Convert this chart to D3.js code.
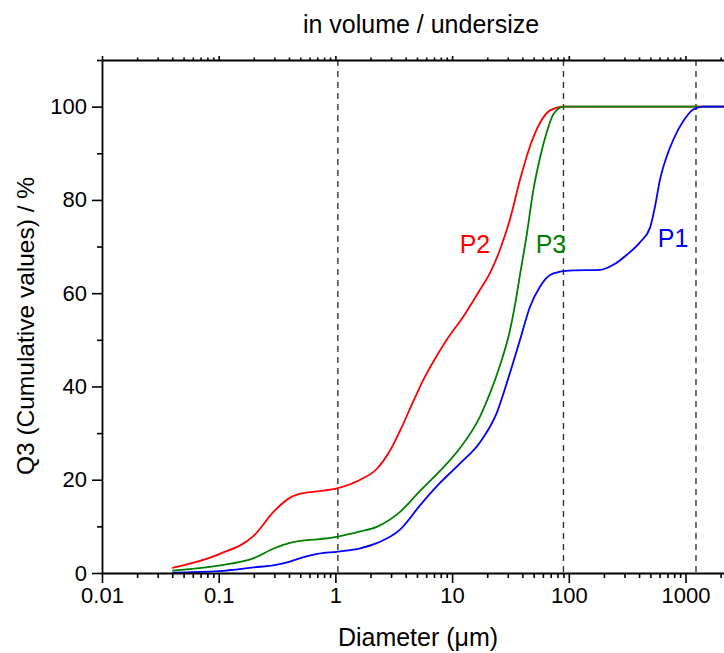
<!DOCTYPE html>
<html>
<head>
<meta charset="utf-8">
<script src="https://cdn.jsdelivr.net/npm/d3@7"></script>
<style>
  html, body { margin: 0; padding: 0; background: #fff; }
  svg { display: block; font-family: Arial, "Liberation Sans", sans-serif; }
</style>
</head>
<body>
<svg id="chart" width="724" height="653"></svg>
<script>
// ---- data ----
const titleText = "in volume / undersize";
const xLabel = "Diameter (\u03bcm)";
const yLabel = "Q3 (Cumulative values) / %";

const xMajorTicks = [0.01, 0.1, 1, 10, 100, 1000];
const xTickLabels = ["0.01", "0.1", "1", "10", "100", "1000"];
const yMajorTicks = [0, 20, 40, 60, 80, 100];
const yMinorTicks = [10, 30, 50, 70, 90, 110];
const refLines = [1.05, 90, 1230];

const p2X = [0.04, 0.1, 0.2, 0.3, 0.4, 0.5, 0.7, 1.05, 1.63, 2.26, 2.9, 3.58, 4.65, 5.67, 6.9, 9, 12.5, 17.3, 21.1, 25.7, 31.3, 38.2, 46.5, 56.6, 69, 90, 3000];
const p2Y = [1.1, 4.0, 8.0, 13.3, 16.0, 17.0, 17.5, 18.2, 20.0, 22.3, 26.0, 30.5, 36.8, 41.4, 45.3, 50.0, 55.0, 60.7, 64.3, 69.3, 75.8, 84.3, 91.5, 96.5, 99.2, 100, 100];

const p3X = [0.04, 0.1, 0.2, 0.3, 0.4, 0.5, 0.7, 1.05, 1.63, 2.26, 3.58, 5.31, 7.87, 11.7, 17.3, 21.1, 25.7, 31.3, 34.6, 38.2, 43.6, 49.6, 56.6, 64.7, 73.6, 90, 3000];
const p3Y = [0.5, 1.6, 3.2, 5.3, 6.4, 6.9, 7.2, 7.8, 8.9, 9.9, 13.1, 17.6, 21.9, 26.8, 33.5, 38.5, 44.5, 52.0, 57.5, 64.0, 72.5, 82.0, 89.0, 94.5, 98.3, 100, 100];

const p1X = [0.04, 0.1, 0.2, 0.3, 0.4, 0.5, 0.7, 1.05, 1.63, 2.26, 3.58, 5.31, 7.87, 11.7, 17.3, 24.1, 31.3, 38.2, 46.5, 56.6, 69, 84, 109, 185, 241, 313, 407, 496, 548, 604, 690, 786, 957, 1166, 1419, 3000];
const p1Y = [0.1, 0.4, 1.2, 1.7, 2.4, 3.2, 4.1, 4.6, 5.3, 6.4, 9.3, 14.5, 19.3, 23.5, 28.0, 34.3, 42.9, 50.0, 57.1, 61.4, 63.9, 64.6, 64.9, 65.0, 66.1, 68.2, 70.9, 74.0, 78.6, 84.3, 89.3, 92.9, 96.9, 99.4, 100, 100];

const seriesNames = ["P2", "P3", "P1"];
const seriesColors = ["#ff0000", "#008000", "#0000ff"];
const labelPos = [[15.7, 68.6], [70.3, 68.6], [782, 69.9]]; // data-space anchor (centre x, baseline y)

// ---- layout ----
const svg = d3.select("#chart");
const padL = 102, padT = 60, padB = 573;
const decade = 116.7;
const x = d3.scaleLog().domain([0.01, 10000]).range([padL, padL + 6 * decade]);
const y = d3.scaleLinear().domain([0, 110]).range([padB, padT]);

const minorX = [];
for (let e = -2; e < 4; e++) for (let m = 2; m <= 9; m++) minorX.push(m * Math.pow(10, e));
const topMajor = xMajorTicks.concat([10000]);

svg.append("defs").append("clipPath").attr("id", "clip")
  .append("rect").attr("x", padL).attr("y", padT).attr("width", 724 - padL).attr("height", padB - padT);

// reference dashed lines
svg.append("g").selectAll("line").data(refLines).join("line")
  .attr("x1", d => x(d)).attr("x2", d => x(d))
  .attr("y1", padT).attr("y2", padB)
  .attr("stroke", "#333").attr("stroke-width", 1.4).attr("stroke-dasharray", "6,5");

// curves
const series = [
  { xs: p2X, ys: p2Y },
  { xs: p3X, ys: p3Y },
  { xs: p1X, ys: p1Y }
];
const line = d3.line().x(d => x(d[0])).y(d => y(d[1])).curve(d3.curveMonotoneX);
const gLines = svg.append("g").attr("clip-path", "url(#clip)");
series.forEach((s, i) => {
  const pts = s.xs.map((v, k) => [v, s.ys[k]]);
  gLines.append("path").datum(pts).attr("d", line)
    .attr("fill", "none").attr("stroke", seriesColors[i]).attr("stroke-width", 1.8);
});

// series labels
svg.append("g").selectAll("text").data(seriesNames).join("text")
  .attr("x", (d, i) => x(labelPos[i][0])).attr("y", (d, i) => y(labelPos[i][1]))
  .attr("text-anchor", "middle").attr("font-size", 25)
  .attr("fill", (d, i) => seriesColors[i]).text(d => d);

// axes
const axStroke = (g) => {
  g.selectAll(".domain").attr("stroke", "#000").attr("stroke-width", 1.8);
  g.selectAll(".tick line").attr("stroke", "#000").attr("stroke-width", 1.6);
  g.selectAll("text").attr("font-size", 22).attr("fill", "#000").attr("font-family", "Arial, 'Liberation Sans', sans-serif");
};

// bottom major
svg.append("g").attr("transform", `translate(0,${padB})`)
  .call(d3.axisBottom(x).tickValues(xMajorTicks).tickSize(10).tickPadding(4)
    .tickFormat((d, i) => xTickLabels[i]).tickSizeOuter(0))
  .call(axStroke);
// bottom minor
svg.append("g").attr("transform", `translate(0,${padB})`)
  .call(d3.axisBottom(x).tickValues(minorX).tickSize(5).tickFormat("").tickSizeOuter(0))
  .call(axStroke).call(g => g.select(".domain").remove());

// top axis (mirror, no labels)
svg.append("g").attr("transform", `translate(0,${padT})`)
  .call(d3.axisTop(x).tickValues(topMajor).tickSize(4).tickFormat("").tickSizeOuter(0))
  .call(axStroke);
svg.append("g").attr("transform", `translate(0,${padT})`)
  .call(d3.axisTop(x).tickValues(minorX).tickSize(2.5).tickFormat("").tickSizeOuter(0))
  .call(axStroke).call(g => g.select(".domain").remove());

// left major
svg.append("g").attr("transform", `translate(${padL},0)`)
  .call(d3.axisLeft(y).tickValues(yMajorTicks).tickSize(10).tickPadding(5).tickSizeOuter(0))
  .call(axStroke);
svg.append("g").attr("transform", `translate(${padL},0)`)
  .call(d3.axisLeft(y).tickValues(yMinorTicks).tickSize(5).tickFormat("").tickSizeOuter(0))
  .call(axStroke).call(g => g.select(".domain").remove());

// titles
svg.append("text").attr("x", 421).attr("y", 33).attr("text-anchor", "middle")
  .attr("font-size", 25).attr("fill", "#000").text(titleText);
svg.append("text").attr("x", 418).attr("y", 646).attr("text-anchor", "middle")
  .attr("font-size", 25).attr("fill", "#000").text(xLabel);
svg.append("text").attr("transform", "translate(34,326) rotate(-90)").attr("text-anchor", "middle")
  .attr("font-size", 24.5).attr("fill", "#000").text(yLabel);
</script>
</body>
</html>
